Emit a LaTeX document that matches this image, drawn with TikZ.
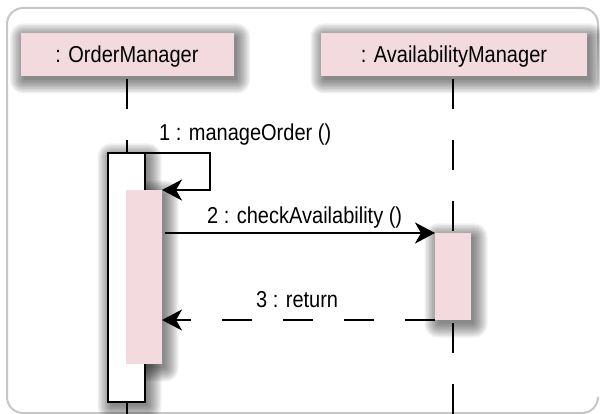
\documentclass[tikz,border=0pt]{standalone}
\usepackage{fontspec}
\setmainfont{Liberation Sans}[FakeStretch=0.87]
\usetikzlibrary{arrows.meta}

\definecolor{objpink}{RGB}{242,218,223}
\definecolor{framegray}{RGB}{198,198,198}

\pgfdeclarelayer{backdrop}
\pgfdeclarelayer{shadowlayer}
\pgfsetlayers{backdrop,shadowlayer,main}

% soft drop shadow built from stacked translucent rounded rectangles
\newcommand\castshadow[1]{%
  \begin{pgfonlayer}{shadowlayer}
    \foreach \r in {0,1.5,...,13.5}
      \fill[black, opacity=0.06, rounded corners={\r*1pt}]
        ([xshift={(3-\r)*1pt}, yshift={(\r-4)*1pt}]#1.north west)
        rectangle ([xshift={(3+\r)*1pt}, yshift={(-4-\r)*1pt}]#1.south east);
  \end{pgfonlayer}}

\begin{document}
\begin{tikzpicture}[x=1pt,y=-1pt,
  font=\fontsize{23}{26}\selectfont,
  header/.style={fill=objpink, minimum width=#1, minimum height=43pt,
      inner sep=0pt, outer sep=0pt, text height=16pt, text depth=0pt},
  activation/.style={fill=objpink, minimum width=36pt, minimum height=#1,
      inner sep=0pt, outer sep=0pt},
  framebox/.style={draw, fill=white, line width=2.2pt, minimum width=37pt,
      minimum height=249pt, inner sep=0pt, outer sep=0pt},
  lifeline/.style={line width=2.2pt, dash pattern=on 30pt off 31pt},
  msg/.style={line width=2.4pt,
      -{Stealth[length=20pt,width=21pt,inset=6pt]}},
  retmsg/.style={msg, dash pattern=on 30pt off 31pt},
  msglabel/.style={anchor=base west, inner sep=0pt}
]
\useasboundingbox (0,0) rectangle (600,414);

% outer frame; its right edge fades out below the top corner
\begin{pgfonlayer}{backdrop}
\draw[framegray, line width=2pt, rounded corners=16pt]
  (598,36) -- (598,8) -- (7,8) -- (7,413) -- (598,413) -- (598,398);
\shade[top color=framegray, bottom color=white] (597,35) rectangle (599,90);
\end{pgfonlayer}

% object headers
\node[header=213pt] (om) at (127,54.5) {: OrderManager};
\node[header=266pt] (am) at (454,54.5) {: AvailabilityManager};

% activation bars
\node[framebox] (ob) at (126.5,277.5) {};
\node[activation=174pt] (a1) at (144,277) {};
\node[activation=87pt] (a2) at (453,276.5) {};

\castshadow{om}
\castshadow{am}
\castshadow{ob}
\castshadow{a1}
\castshadow{a2}

% lifelines, behind the bars
\coordinate (omend) at (127,414);
\coordinate (amend) at (453,414);
\begin{pgfonlayer}{backdrop}
\draw[lifeline] ([yshift=-3pt]om.south) -- (omend);
\draw[lifeline] ([yshift=-3pt,xshift=-1pt]am.south) -- (amend);
\end{pgfonlayer}

% messages
\draw[msg] (ob.north east) -- ++(65,0) |- (a1.north east);
\draw[msg] ([xshift=3pt]a1.east |- a2.north west) -- (a2.north west);
\draw[retmsg] (a2.south west) -- (a1.east |- a2.south west);

% message labels
\node[msglabel] (l1) at (159,141) {1 : manageOrder ()};
\node[msglabel] (l2) at (207,224) {2 : checkAvailability ()};
\node[msglabel] (l3) at (256,308) {3 : return};
\end{tikzpicture}
\end{document}
